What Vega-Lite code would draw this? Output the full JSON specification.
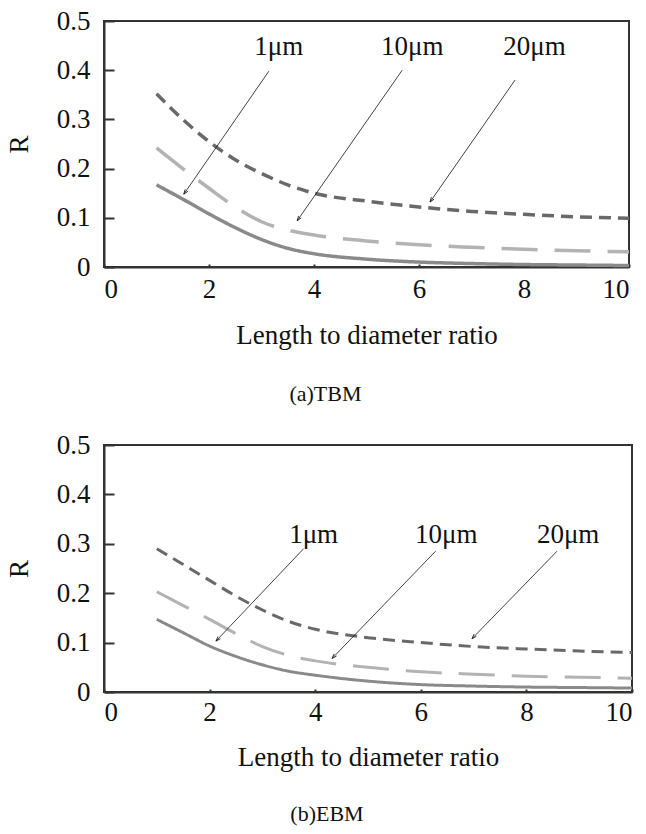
{
  "$schema": "https://vega.github.io/schema/vega-lite/v6.json",
  "padding": {"left": 4, "top": 6, "right": 10, "bottom": 5},
  "spacing": 24,
  "datasets": {
    "aLines": [
      {"series": "1μm", "x": 1, "R": 0.167}, {"series": "1μm", "x": 1.5, "R": 0.138}, {"series": "1μm", "x": 2, "R": 0.108},
      {"series": "1μm", "x": 2.5, "R": 0.08}, {"series": "1μm", "x": 3, "R": 0.056}, {"series": "1μm", "x": 3.5, "R": 0.038},
      {"series": "1μm", "x": 4, "R": 0.027}, {"series": "1μm", "x": 5, "R": 0.016}, {"series": "1μm", "x": 6, "R": 0.01},
      {"series": "1μm", "x": 7, "R": 0.007}, {"series": "1μm", "x": 8, "R": 0.005}, {"series": "1μm", "x": 9, "R": 0.004},
      {"series": "1μm", "x": 10, "R": 0.003},
      {"series": "10μm", "x": 1, "R": 0.242}, {"series": "10μm", "x": 1.5, "R": 0.2}, {"series": "10μm", "x": 2, "R": 0.16},
      {"series": "10μm", "x": 2.5, "R": 0.122}, {"series": "10μm", "x": 3, "R": 0.092}, {"series": "10μm", "x": 3.5, "R": 0.075},
      {"series": "10μm", "x": 4, "R": 0.065}, {"series": "10μm", "x": 5, "R": 0.053}, {"series": "10μm", "x": 6, "R": 0.045},
      {"series": "10μm", "x": 7, "R": 0.04}, {"series": "10μm", "x": 8, "R": 0.036}, {"series": "10μm", "x": 9, "R": 0.033},
      {"series": "10μm", "x": 10, "R": 0.031},
      {"series": "20μm", "x": 1, "R": 0.352}, {"series": "20μm", "x": 1.5, "R": 0.3}, {"series": "20μm", "x": 2, "R": 0.255},
      {"series": "20μm", "x": 2.5, "R": 0.218}, {"series": "20μm", "x": 3, "R": 0.19}, {"series": "20μm", "x": 3.5, "R": 0.167},
      {"series": "20μm", "x": 4, "R": 0.15}, {"series": "20μm", "x": 5, "R": 0.134}, {"series": "20μm", "x": 6, "R": 0.122},
      {"series": "20μm", "x": 7, "R": 0.113}, {"series": "20μm", "x": 8, "R": 0.107}, {"series": "20μm", "x": 9, "R": 0.102},
      {"series": "20μm", "x": 10, "R": 0.099}
    ],
    "aArrows": [
      {"label": "1μm", "tx": 3.33, "ty": 0.431, "x1": 3.14, "y1": 0.398, "x2": 1.52, "y2": 0.148},
      {"label": "10μm", "tx": 5.87, "ty": 0.431, "x1": 5.68, "y1": 0.4, "x2": 3.68, "y2": 0.094},
      {"label": "20μm", "tx": 8.2, "ty": 0.431, "x1": 7.83, "y1": 0.38, "x2": 6.21, "y2": 0.132}
    ],
    "bLines": [
      {"series": "1μm", "x": 1, "R": 0.147}, {"series": "1μm", "x": 1.5, "R": 0.12}, {"series": "1μm", "x": 2, "R": 0.093},
      {"series": "1μm", "x": 2.5, "R": 0.072}, {"series": "1μm", "x": 3, "R": 0.055}, {"series": "1μm", "x": 3.5, "R": 0.042},
      {"series": "1μm", "x": 4, "R": 0.034}, {"series": "1μm", "x": 5, "R": 0.022}, {"series": "1μm", "x": 6, "R": 0.015},
      {"series": "1μm", "x": 7, "R": 0.012}, {"series": "1μm", "x": 8, "R": 0.01}, {"series": "1μm", "x": 9, "R": 0.009},
      {"series": "1μm", "x": 10, "R": 0.008},
      {"series": "10μm", "x": 1, "R": 0.203}, {"series": "10μm", "x": 1.5, "R": 0.175}, {"series": "10μm", "x": 2, "R": 0.147},
      {"series": "10μm", "x": 2.5, "R": 0.118}, {"series": "10μm", "x": 3, "R": 0.092}, {"series": "10μm", "x": 3.5, "R": 0.074},
      {"series": "10μm", "x": 4, "R": 0.063}, {"series": "10μm", "x": 5, "R": 0.05}, {"series": "10μm", "x": 6, "R": 0.041},
      {"series": "10μm", "x": 7, "R": 0.036}, {"series": "10μm", "x": 8, "R": 0.032}, {"series": "10μm", "x": 9, "R": 0.03},
      {"series": "10μm", "x": 10, "R": 0.028},
      {"series": "20μm", "x": 1, "R": 0.29}, {"series": "20μm", "x": 1.5, "R": 0.258}, {"series": "20μm", "x": 2, "R": 0.226},
      {"series": "20μm", "x": 2.5, "R": 0.194}, {"series": "20μm", "x": 3, "R": 0.166}, {"series": "20μm", "x": 3.5, "R": 0.143},
      {"series": "20μm", "x": 4, "R": 0.127}, {"series": "20μm", "x": 5, "R": 0.11}, {"series": "20μm", "x": 6, "R": 0.1},
      {"series": "20μm", "x": 7, "R": 0.092}, {"series": "20μm", "x": 8, "R": 0.087}, {"series": "20μm", "x": 9, "R": 0.083},
      {"series": "20μm", "x": 10, "R": 0.08}
    ],
    "bArrows": [
      {"label": "1μm", "tx": 3.97, "ty": 0.301, "x1": 3.78, "y1": 0.29, "x2": 2.12, "y2": 0.103},
      {"label": "10μm", "tx": 6.48, "ty": 0.301, "x1": 6.28, "y1": 0.285, "x2": 4.32, "y2": 0.068},
      {"label": "20μm", "tx": 8.79, "ty": 0.301, "x1": 8.58, "y1": 0.285, "x2": 6.97, "y2": 0.108}
    ]
  },
  "vconcat": [
    {
      "width": 525,
      "height": 246,
      "title": {"text": "(a)TBM", "orient": "bottom", "anchor": "middle", "dx": -41, "fontSize": 22, "fontWeight": "normal", "font": "Times New Roman, Liberation Serif, serif", "color": "#111", "offset": 36},
      "layer": [
        {
          "data": {"name": "aLines"},
          "mark": {"type": "line", "interpolate": "monotone", "strokeWidth": 3.5},
          "encoding": {
            "x": {"field": "x", "type": "quantitative", "scale": {"domain": [0, 10]}, "title": "Length to diameter ratio",
                  "axis": {"values": [0, 2, 4, 6, 8, 10], "tickSize": -3, "labelPadding": 12, "titlePadding": 20}},
            "y": {"field": "R", "type": "quantitative", "scale": {"domain": [0, 0.5]}, "title": "R",
                  "axis": {"values": [0, 0.1, 0.2, 0.3, 0.4, 0.5], "tickSize": -10, "labelPadding": 24, "titlePadding": 23, "labelExpr": "datum.value == 0 ? '0' : format(datum.value, '.1f')"}},
            "color": {"field": "series", "type": "nominal", "scale": {"domain": ["1μm", "10μm", "20μm"], "range": ["#8a8a8a", "#b3b3b3", "#696969"]}, "legend": null},
            "strokeDash": {"field": "series", "type": "nominal", "scale": {"domain": ["1μm", "10μm", "20μm"], "range": [[1, 0], [36, 17], [12, 7]]}, "legend": null}
          }
        },
        {
          "data": {"name": "aArrows"},
          "mark": {"type": "rule", "color": "#111", "strokeWidth": 0.8},
          "encoding": {"x": {"field": "x1", "type": "quantitative"}, "y": {"field": "y1", "type": "quantitative"}, "x2": {"field": "x2"}, "y2": {"field": "y2"}}
        },
        {
          "data": {"name": "aArrows"},
          "mark": {"type": "point", "shape": "M-0.35,1L0,0L0.35,1", "filled": false, "size": 90, "color": "#111", "strokeWidth": 0.8, "angle": 215, "opacity": 1},
          "encoding": {"x": {"field": "x2", "type": "quantitative"}, "y": {"field": "y2", "type": "quantitative"}}
        },
        {
          "data": {"name": "aArrows"},
          "mark": {"type": "text", "fontSize": 27, "font": "Times New Roman, Liberation Serif, serif", "align": "center", "baseline": "alphabetic", "color": "#111"},
          "encoding": {"x": {"field": "tx", "type": "quantitative"}, "y": {"field": "ty", "type": "quantitative"}, "text": {"field": "label"}}
        }
      ]
    },
    {
      "width": 528,
      "height": 247,
      "title": {"text": "(b)EBM", "orient": "bottom", "anchor": "middle", "dx": -41, "fontSize": 22, "fontWeight": "normal", "font": "Times New Roman, Liberation Serif, serif", "color": "#111", "offset": 34},
      "layer": [
        {
          "data": {"name": "bLines"},
          "mark": {"type": "line", "interpolate": "monotone", "strokeWidth": 3},
          "encoding": {
            "x": {"field": "x", "type": "quantitative", "scale": {"domain": [0, 10]}, "title": "Length to diameter ratio",
                  "axis": {"values": [0, 2, 4, 6, 8, 10], "tickSize": -3, "labelPadding": 10, "titlePadding": 19}},
            "y": {"field": "R", "type": "quantitative", "scale": {"domain": [0, 0.5]}, "title": "R",
                  "axis": {"values": [0, 0.1, 0.2, 0.3, 0.4, 0.5], "tickSize": -10, "labelPadding": 24, "titlePadding": 23, "labelExpr": "datum.value == 0 ? '0' : format(datum.value, '.1f')"}},
            "color": {"field": "series", "type": "nominal", "scale": {"domain": ["1μm", "10μm", "20μm"], "range": ["#8a8a8a", "#b3b3b3", "#696969"]}, "legend": null},
            "strokeDash": {"field": "series", "type": "nominal", "scale": {"domain": ["1μm", "10μm", "20μm"], "range": [[1, 0], [36, 17], [12, 7]]}, "legend": null}
          }
        },
        {
          "data": {"name": "bArrows"},
          "mark": {"type": "rule", "color": "#111", "strokeWidth": 0.8},
          "encoding": {"x": {"field": "x1", "type": "quantitative"}, "y": {"field": "y1", "type": "quantitative"}, "x2": {"field": "x2"}, "y2": {"field": "y2"}}
        },
        {
          "data": {"name": "bArrows"},
          "mark": {"type": "point", "shape": "M-0.35,1L0,0L0.35,1", "filled": false, "size": 90, "color": "#111", "strokeWidth": 0.8, "angle": 223, "opacity": 1},
          "encoding": {"x": {"field": "x2", "type": "quantitative"}, "y": {"field": "y2", "type": "quantitative"}}
        },
        {
          "data": {"name": "bArrows"},
          "mark": {"type": "text", "fontSize": 27, "font": "Times New Roman, Liberation Serif, serif", "align": "center", "baseline": "alphabetic", "color": "#111"},
          "encoding": {"x": {"field": "tx", "type": "quantitative"}, "y": {"field": "ty", "type": "quantitative"}, "text": {"field": "label"}}
        }
      ]
    }
  ],
  "config": {
    "font": "Times New Roman, Liberation Serif, serif",
    "background": "white",
    "view": {"stroke": "#333", "strokeWidth": 2},
    "axis": {
      "labelFont": "Times New Roman, Liberation Serif, serif", "titleFont": "Times New Roman, Liberation Serif, serif",
      "labelFontSize": 27, "titleFontSize": 27, "titleFontWeight": "normal",
      "labelColor": "#111", "titleColor": "#111",
      "domainColor": "#333", "domainWidth": 2, "tickColor": "#333", "tickWidth": 2, "grid": false
    }
  }
}
